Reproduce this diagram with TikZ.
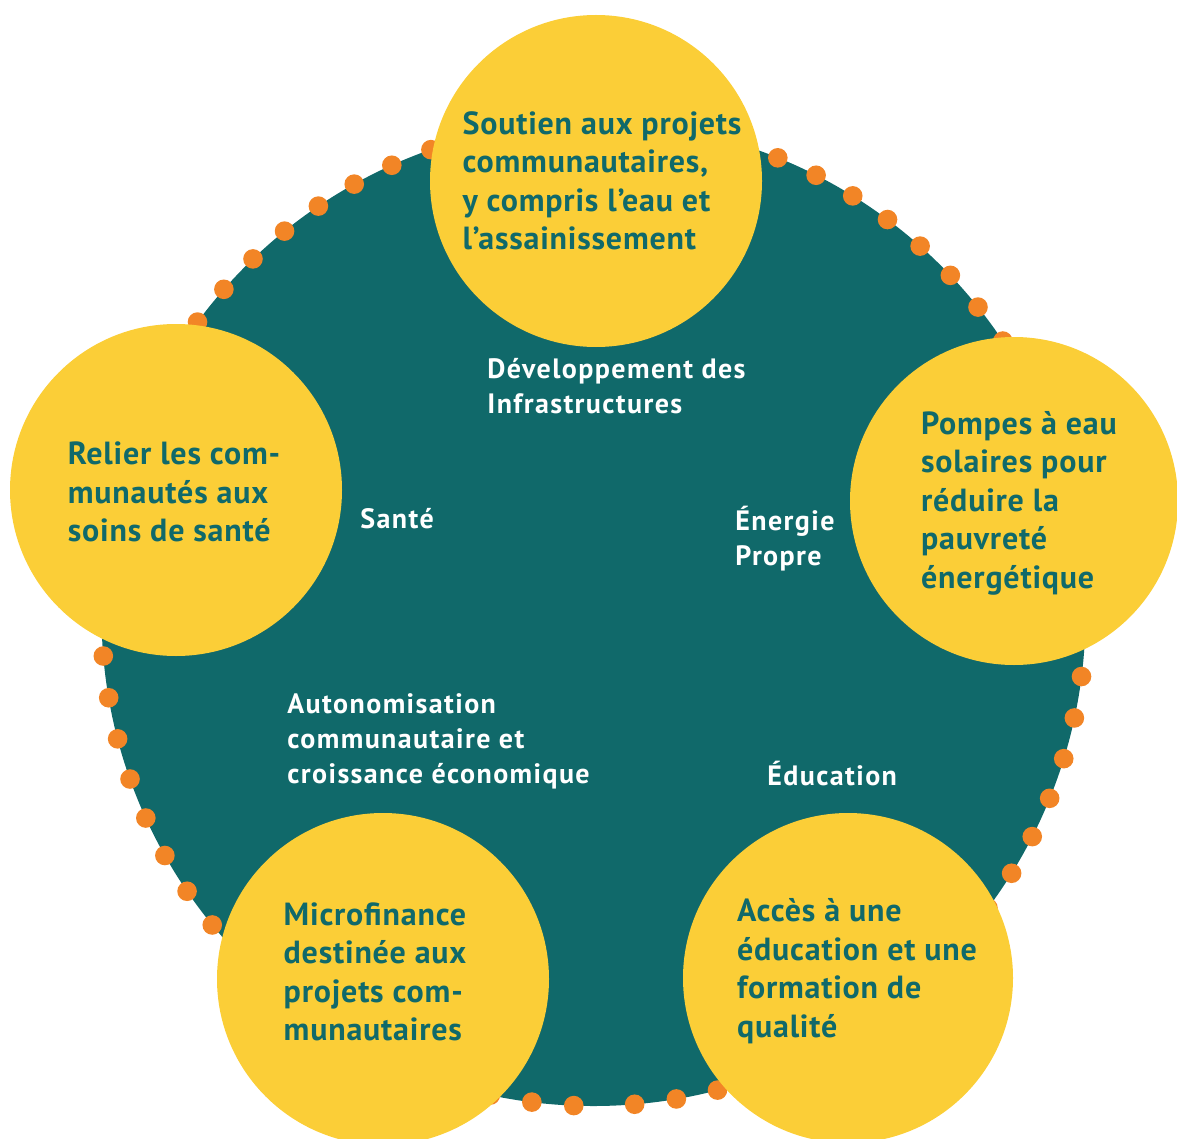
\documentclass[tikz,border=0pt]{standalone}
\usepackage{fontspec}
\setmainfont{PT Sans}
\newfontfamily\bubblefont{PT Sans}[LetterSpace=2.5]
\newfontfamily\themefont{PT Sans}[LetterSpace=5]
\usepackage{xcolor}
\usetikzlibrary{positioning}
\definecolor{tealbg}{HTML}{10696A}
\definecolor{sunyellow}{HTML}{FBCE37}
\definecolor{dotorange}{HTML}{F28526}

\begin{document}
\begin{tikzpicture}[x=0.5pt,y=-0.5pt,
    bubble/.style={circle,fill=sunyellow,minimum size=166pt,inner sep=0pt},
    bubbletext/.style={inner sep=0pt,align=left,text=tealbg,
      font=\bubblefont\bfseries\fontsize{16}{19.25}\selectfont},
    theme/.style={anchor=base west,inner sep=0pt,align=left,text=white,
      font=\themefont\bfseries\fontsize{14}{17.5}\selectfont}]
  \useasboundingbox (0,0) rectangle (1177,1139);

  \node[circle,fill=tealbg,minimum size=492pt,inner sep=0pt] (hub) at (593.5,614) {};

  % orange dots along the rim
  \foreach \a in {109.3,114.2,...,148.6, 184.9,189.8,...,224.1,
                  253.0,257.9,262.8,267.7, 274.8,279.7,284.6,289.5,
                  -7.3,-12.2,...,-41.7, 68.0,63.1,...,28.8}
    \fill[dotorange] ({593.5+492*cos(\a)},{614-492*sin(\a)}) circle[radius=4.9pt];

  \node[bubble] (infra) at (596,181) {};
  \node[bubble] (sante) at (176,490) {};
  \node[bubble,minimum size=164pt] (energie) at (1014,501) {};
  \node[bubble] (micro) at (383,979) {};
  \node[bubble,minimum size=165pt] (educ) at (848,978) {};

  \node[bubbletext] (infratext) at ([xshift=3pt]infra.center) {Soutien aux projets\\communautaires,\\y compris l’eau et\\l’assainissement};
  \node[bubbletext] (santetext) at ([xshift=-1pt,yshift=-1pt]sante.center) {Relier les com-\\munautés aux\\soins de santé};
  \node[bubbletext] (energietext) at ([xshift=2.5pt,yshift=-1pt]energie.center) {Pompes à eau\\solaires pour\\réduire la\\pauvreté\\énergétique};
  \node[bubbletext] (microtext) at ([xshift=-4pt,yshift=3.5pt]micro.center) {Microfinance\\destinée aux\\projets com-\\munautaires};
  \node[bubbletext] (eductext) at ([xshift=4.5pt,yshift=3.5pt]educ.center) {Accès à une\\éducation et une\\formation de\\qualité};

  % multi-line labels sit on their last baseline
  \node[theme] (lblinfra) at (487,413) {Développement des\\Infrastructures};
  \node[theme] (lblsante) at (360,528) {Santé};
  \node[theme] (lblenergie) at (735,565) {Énergie\\Propre};
  \node[theme] (lblauto) at (287,783) {Autonomisation\\communautaire et\\croissance économique};
  \node[theme] (lbleduc) at (767,785) {Éducation};
\end{tikzpicture}
\end{document}
